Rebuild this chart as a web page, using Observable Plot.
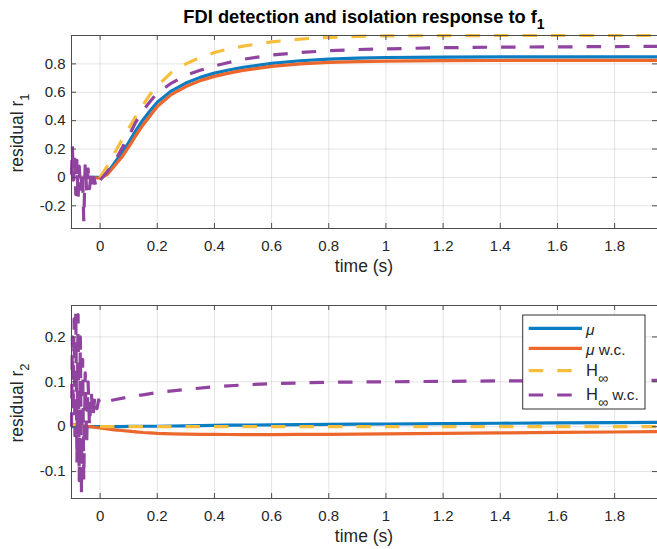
<!DOCTYPE html>
<html><head><meta charset="utf-8">
<script src="https://cdn.jsdelivr.net/npm/d3@7"></script>
<script src="https://cdn.jsdelivr.net/npm/@observablehq/plot@0.6"></script>
<style>
html,body{margin:0;padding:0;background:#fff;}
#wrap{position:relative;width:657px;height:549px;overflow:hidden;font-family:"Liberation Sans",Arial,Helvetica,sans-serif;}
#wrap > svg{position:absolute;left:0;}
</style></head><body><div id="wrap"></div>
<script>
// ---- data ----
const xDomain = [-0.1, 1.95];
const xTicks = [0, 0.2, 0.4, 0.6, 0.8, 1, 1.2, 1.4, 1.6, 1.8];
const y1Domain = [-0.36, 1.0];
const y1Ticks = [-0.2, 0, 0.2, 0.4, 0.6, 0.8];
const y2Domain = [-0.16, 0.27];
const y2Ticks = [-0.1, 0, 0.1, 0.2];
const seriesNames = ["μ", "μ w.c.", "H∞", "H∞ w.c."];
const seriesColors = ["#0B7DC3", "#EC672C", "#F6BE3C", "#9143A0"];

const tGrid = [-0.1, 0, 0.025, 0.05, 0.075, 0.1, 0.125, 0.15, 0.175, 0.2, 0.25, 0.3, 0.35, 0.4, 0.45, 0.5, 0.6, 0.7, 0.8, 0.9, 1.0, 1.2, 1.4, 1.6, 1.8, 1.95];

// residual r1
const r1_mu    = [0, 0, 0.03, 0.10, 0.17, 0.245, 0.33, 0.405, 0.47, 0.53, 0.61, 0.665, 0.705, 0.735, 0.757, 0.775, 0.803, 0.822, 0.834, 0.841, 0.845, 0.848, 0.849, 0.849, 0.85, 0.85];
const r1_muwc  = [-0.004, -0.004, 0.02, 0.08, 0.14, 0.215, 0.295, 0.37, 0.435, 0.50, 0.585, 0.64, 0.682, 0.712, 0.735, 0.754, 0.783, 0.80, 0.81, 0.816, 0.82, 0.823, 0.824, 0.825, 0.825, 0.825];
const r1_hinf  = [0, 0, 0.08, 0.17, 0.26, 0.345, 0.43, 0.51, 0.585, 0.645, 0.74, 0.80, 0.845, 0.88, 0.905, 0.925, 0.955, 0.975, 0.987, 0.994, 0.997, 0.999, 1.0, 1.0, 1.0, 1.0];
const tWcTop   = [-0.1, -0.097, -0.093, -0.089, -0.085, -0.081, -0.077, -0.073, -0.068, -0.062, -0.057, -0.052, -0.047, -0.042, -0.037, -0.032, -0.027, -0.022, -0.016, -0.01, -0.005, 0,
                  0.025, 0.05, 0.075, 0.1, 0.125, 0.15, 0.175, 0.2, 0.25, 0.3, 0.35, 0.4, 0.45, 0.5, 0.6, 0.7, 0.8, 0.9, 1.0, 1.2, 1.4, 1.6, 1.8, 1.95];
const r1_hinfwc = [0.02, 0.22, -0.02, 0.14, -0.12, 0.12, -0.16, 0.08, -0.10, 0.05, -0.31, 0.10, -0.10, 0.06, -0.08, 0.02, -0.06, 0.0, -0.05, -0.01, -0.04, -0.02,
                  0.04, 0.11, 0.20, 0.29, 0.39, 0.47, 0.535, 0.595, 0.665, 0.72, 0.755, 0.785, 0.81, 0.832, 0.862, 0.88, 0.893, 0.901, 0.906, 0.914, 0.918, 0.92, 0.922, 0.923];

// residual r2
const r2_mu    = [0, 0, 0, 0, 0, 0.0005, 0.0005, 0.001, 0.001, 0.001, 0.0015, 0.002, 0.0025, 0.003, 0.0033, 0.0036, 0.004, 0.0045, 0.005, 0.0055, 0.006, 0.0068, 0.0076, 0.0083, 0.009, 0.0095];
const r2_muwc  = [0.005, -0.003, -0.005, -0.007, -0.0085, -0.01, -0.0115, -0.013, -0.014, -0.015, -0.016, -0.0165, -0.017, -0.0172, -0.0174, -0.0175, -0.0175, -0.0173, -0.017, -0.0166, -0.0162, -0.015, -0.0138, -0.0127, -0.0118, -0.011];
const r2_hinf  = [0.004, 0, 0, 0, 0, 0, 0, 0, 0, 0, 0, 0, 0, 0, 0, 0, 0, 0, 0, 0, 0, 0, 0, 0, 0, 0];
const tWcBot   = [-0.1, -0.097, -0.094, -0.091, -0.088, -0.085, -0.081, -0.077, -0.073, -0.069, -0.065, -0.061, -0.057, -0.052, -0.047, -0.042, -0.037, -0.031, -0.025, -0.018, -0.011, -0.005, 0,
                  0.025, 0.05, 0.1, 0.15, 0.2, 0.3, 0.4, 0.5, 0.6, 0.8, 1.0, 1.2, 1.4, 1.6, 1.8, 1.95];
const r2_hinfwc = [0.0, 0.2, 0.03, 0.24, -0.02, 0.26, -0.08, 0.25, -0.12, 0.2, -0.15, 0.15, -0.12, 0.12, -0.04, 0.1, 0.0, 0.08, 0.02, 0.07, 0.04, 0.06, 0.05,
                  0.056, 0.06, 0.066, 0.071, 0.076, 0.083, 0.089, 0.093, 0.096, 0.099, 0.1, 0.101, 0.102, 0.102, 0.103, 0.103];

// ---- drawing ----
const W = 657, ML = 71, MR = 0;
const AX = "#4d4d4d", TXT = "#262626";
const fmt = d => String(d);
const DASH = "14.5,14";

function rows(ts, vs){ return ts.map((t, k) => ({t, v: vs[k]})); }
function lineMark(ts, vs, i){
  return Plot.line(rows(ts, vs), {x: "t", y: "v", stroke: seriesColors[i], strokeWidth: 3.2,
    strokeDasharray: i >= 2 ? DASH : null, strokeLinecap: "butt", strokeLinejoin: "round"});
}

function panel({height, marginTop, marginBottom, yDomain, yTicks, lines}){
  const fh = height - marginTop - marginBottom;
  const fw = W - ML - MR;
  return Plot.plot({
    width: W, height, marginLeft: ML, marginRight: MR, marginTop, marginBottom,
    style: {fontFamily: "'Liberation Sans', Arial, Helvetica, sans-serif", fontSize: "15px", background: "transparent", overflow: "visible"},
    x: {domain: xDomain},
    y: {domain: yDomain},
    marks: [
      Plot.gridX(xTicks, {stroke: "#000", strokeOpacity: 0.11}),
      Plot.gridY(yTicks, {stroke: "#000", strokeOpacity: 0.11}),
      ...lines,
      Plot.frame({stroke: AX}),
      Plot.tickX(xTicks, {x: d => d, insetTop: fh - 5, stroke: AX}),
      Plot.tickX(xTicks, {x: d => d, insetBottom: fh - 5, stroke: AX}),
      Plot.tickY(yTicks, {y: d => d, insetRight: fw - 5, stroke: AX}),
      Plot.tickY(yTicks, {y: d => d, insetLeft: fw - 5, stroke: AX}),
      Plot.axisX(xTicks, {tickSize: 0, tickPadding: 12, tickFormat: fmt, color: TXT, fontSize: 15, label: null}),
      Plot.axisY(yTicks, {tickSize: 0, tickPadding: 6, tickFormat: fmt, color: TXT, fontSize: 15, label: null})
    ]
  });
}

const wrap = document.getElementById("wrap");

const top1 = panel({height: 270, marginTop: 35, marginBottom: 42, yDomain: y1Domain, yTicks: y1Ticks, lines: [
  lineMark(tGrid, r1_mu, 0), lineMark(tGrid, r1_muwc, 1), lineMark(tGrid, r1_hinf, 2), lineMark(tWcTop, r1_hinfwc, 3)
]});
top1.style.top = "0px";
wrap.appendChild(top1);

const bot = panel({height: 279, marginTop: 35, marginBottom: 51, yDomain: y2Domain, yTicks: y2Ticks, lines: [
  lineMark(tGrid, r2_mu, 0), lineMark(tGrid, r2_muwc, 1), lineMark(tGrid, r2_hinf, 2), lineMark(tWcBot, r2_hinfwc, 3)
]});
bot.style.top = "270px";
wrap.appendChild(bot);

// ---- text overlay: title, axis labels, legend ----
const ov = d3.select(wrap).append("svg").attr("width", W).attr("height", 549)
  .style("top", "0px").style("font-family", "'Liberation Sans', Arial, Helvetica, sans-serif").style("fill", TXT);

const title = ov.append("text").attr("x", 364).attr("y", 23).attr("text-anchor", "middle")
  .attr("font-size", 18.3).attr("font-weight", "bold").attr("fill", "#000");
title.append("tspan").text("FDI detection and isolation response to f");
title.append("tspan").attr("dy", 6).attr("font-size", 14).text("1");

[271.5, 541.5].forEach(y => {
  ov.append("text").attr("x", 364).attr("y", y).attr("text-anchor", "middle").attr("font-size", 17.5).text("time (s)");
});
[["1", 133], ["2", 403]].forEach(([s, cy]) => {
  const t = ov.append("text").attr("transform", `translate(23.3,${cy}) rotate(-90)`).attr("text-anchor", "middle").attr("font-size", 17.5);
  t.append("tspan").text("residual r");
  t.append("tspan").attr("dy", 6).attr("font-size", 13).text(s);
});

// legend
const lg = ov.append("g").attr("transform", "translate(522.7,315)");
lg.append("rect").attr("width", 122.3).attr("height", 94).attr("fill", "#fff").attr("stroke", "#333").attr("stroke-width", 1);
const rowY = [13.3, 33.3, 55.7, 80];
seriesNames.forEach((name, i) => {
  lg.append("line").attr("x1", 6).attr("x2", 59.3).attr("y1", rowY[i]).attr("y2", rowY[i])
    .attr("stroke", seriesColors[i]).attr("stroke-width", 3.2)
    .attr("stroke-dasharray", i >= 2 ? DASH : null);
  const t = lg.append("text").attr("x", 63.3).attr("font-size", 15.5);
  if (i < 2) {
    t.attr("y", rowY[i] + 6.5);
    t.append("tspan").attr("font-style", "italic").text("μ");
    if (i === 1) t.append("tspan").text(" w.c.");
  } else {
    t.attr("y", rowY[i] + 5);
    t.append("tspan").attr("font-size", 16.5).text("H");
    t.append("tspan").attr("dy", 7).attr("font-size", 14).text("∞");
    if (i === 3) t.append("tspan").attr("dy", -7).text(" w.c.");
  }
});
</script></body></html>
